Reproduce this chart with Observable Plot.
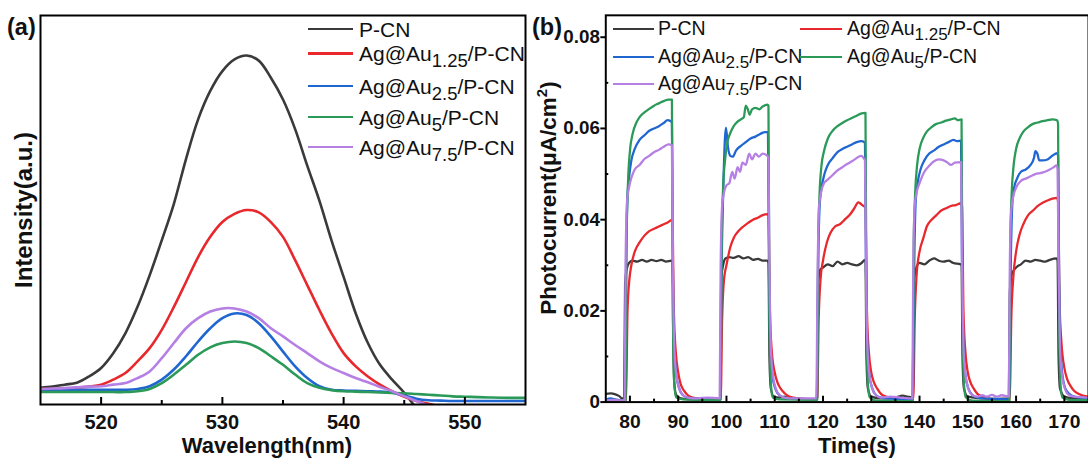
<!DOCTYPE html>
<html>
<head>
<meta charset="utf-8">
<script src="https://cdn.jsdelivr.net/npm/d3@7"></script>
<script src="https://cdn.jsdelivr.net/npm/@observablehq/plot@0.6"></script>
<style>
html,body{margin:0;padding:0;background:#fff;overflow:hidden;}
#root{position:relative;width:1088px;height:461px;overflow:hidden;font-family:"Liberation Sans",Arial,Helvetica,sans-serif;color:#111;}
.panel{position:absolute;top:0;}
.t{position:absolute;white-space:nowrap;line-height:1;}
.b{font-weight:bold;}
.rot{transform:translate(-50%,-50%) rotate(-90deg);}
.ctr{transform:translate(-50%,-50%);}
.ln{position:absolute;}
.sa{font-size:18.5px;position:relative;top:6px;}
.sb{font-size:17px;position:relative;top:5px;}
.sup{font-size:15px;position:relative;top:-9px;}
</style>
</head>
<body>
<div id="root"></div>
<script>
// ---------- shared series info ----------
const seriesNames = ["P-CN", "Ag@Au1.25/P-CN", "Ag@Au2.5/P-CN", "Ag@Au5/P-CN", "Ag@Au7.5/P-CN"];
const seriesSubs = ["", "1.25", "2.5", "5", "7.5"];
const seriesColors = ["#3a3a3a", "#e8282c", "#1f66d1", "#2b9a58", "#b57fe3"];

// ---------- panel (a): PL spectra ----------
const wavelengths = [515,516,517,518,519,520,521,522,523,524,525,526,527,528,529,530,531,532,533,534,535,536,537,538,539,540,541,542,543,544,545,546,547,548,549,550,551,552,553,554,555];
const aPCN  = [4.3,4.6,5.1,5.6,7.2,9.4,13.2,18.3,25.1,33.2,42.2,51.6,63.1,73.3,80.6,85.7,88.7,89.7,88.4,84.0,78.4,70.8,61.4,52.4,42.2,32.8,23.4,15.8,10.2,6.4,3.0,-0.9,-4,-7,-8,-8,-8,-8,-8,-8,-8];
const aAu125 = [4.0,4.0,4.1,4.3,4.6,5.1,6.4,8.1,11.1,14.5,19.2,25.1,31.5,37.9,43.1,46.9,49.0,50.0,49.4,46.9,43.1,37.1,30.7,24.3,18.3,13.2,9.8,7.2,5.1,3.4,2.0,0.9,0.2,-0.6,-1.5,-3,-3,-3,-3,-3,-3];
const aAu25 = [3.8,3.8,3.8,3.8,3.8,3.8,3.8,3.8,4.0,4.7,6.4,9.0,12.4,16.2,19.6,22.2,23.4,23.0,20.9,17.5,13.6,9.8,6.8,4.7,3.8,3.6,3.5,3.4,3.3,3.0,2.3,1.5,1.1,1.0,0.9,0.9,0.9,0.9,0.9,0.9,0.9];
const aAu5 = [3.2,3.2,3.2,3.2,3.2,3.2,3.2,3.2,3.4,4.0,5.5,7.7,10.2,12.8,14.7,15.8,16.2,15.8,14.5,12.4,10.2,7.7,5.5,4.3,3.7,3.4,3.3,3.2,3.1,3.0,2.9,2.7,2.5,2.3,2.1,2.0,1.9,1.8,1.75,1.7,1.7];
const aAu75 = [4.0,4.1,4.2,4.4,4.6,4.7,5.1,5.5,6.8,8.5,11.9,15.8,19.6,22.2,23.9,24.7,24.7,23.9,22.2,19.6,17.5,15.3,13.2,11.1,9.4,8.1,6.8,5.7,4.5,3.4,2.1,0.9,-0.3,-1.5,-3,-3,-3,-3,-3,-3,-3];
const aSeries = [aPCN, aAu125, aAu25, aAu5, aAu75];
const wlMajor = [520, 530, 540, 550];
const wlMinor = [525, 535, 545];

// ---------- panel (b): transient photocurrent ----------
const bPCN = [[75,0.0018],[76,0.0019],[77,0.0017],[77.8,0.0013],[78.4,0.0008],[78.8,0.001],[79.0,0.026],[79.3,0.029],[79.8,0.0305],[80.5,0.031],[81.5,0.0308],[82.5,0.0312],[83.5,0.0308],[84.5,0.0312],[85.5,0.0309],[86.5,0.0312],[87.5,0.0308],[88.6,0.031],[88.8,0.031],[89.0,0.012],[89.2,0.004],[89.6,0.0015],[90.5,0.0008],[92,0.0006],[95,0.0005],[98.5,0.0006],[98.7,0.001],[98.9,0.027],[99.3,0.030],[99.8,0.0315],[100.5,0.0318],[101.5,0.0316],[102.5,0.032],[103.5,0.0315],[104.5,0.0318],[105.5,0.0312],[106.5,0.0314],[107.5,0.031],[108.5,0.031],[108.7,0.0305],[108.9,0.01],[109.2,0.003],[109.8,0.0012],[111,0.001],[112,0.0012],[113,0.0008],[116,0.0006],[118.6,0.0007],[118.8,0.001],[119,0.026],[119.4,0.029],[120,0.0295],[121,0.0302],[122,0.0298],[123,0.0308],[124,0.0302],[125,0.0305],[126,0.0302],[127,0.03],[128,0.0305],[128.7,0.0312],[128.8,0.031],[129,0.01],[129.3,0.003],[130,0.0012],[132,0.0008],[135,0.001],[136.5,0.0014],[137.5,0.0012],[138.6,0.001],[138.8,0.026],[139.2,0.029],[140,0.0305],[141,0.0302],[142,0.031],[143,0.0315],[144,0.031],[145,0.0308],[146,0.031],[147,0.0305],[148.5,0.0302],[148.7,0.03],[148.9,0.01],[149.2,0.003],[150,0.0012],[153,0.0008],[156,0.0007],[158.5,0.0008],[158.7,0.024],[159.1,0.028],[160,0.0295],[161,0.0302],[162,0.031],[163,0.0308],[164,0.0312],[165,0.031],[166,0.0308],[167,0.0312],[168.4,0.0315],[168.6,0.031],[168.8,0.01],[169.1,0.003],[170,0.0012],[172,0.0008],[175,0.0007]];
const bAu125 = [[75,0.0003],[78,0.0003],[79.2,0.0005],[79.5,0.02],[79.9,0.027],[80.3,0.030],[81,0.033],[82,0.035],[83,0.0365],[84,0.0375],[85,0.038],[86,0.0385],[87,0.039],[88,0.0395],[88.8,0.040],[89.1,0.02],[89.5,0.011],[90,0.0065],[90.5,0.004],[91.2,0.0025],[92,0.0015],[93,0.001],[95,0.0007],[98.8,0.0006],[99.1,0.018],[99.5,0.027],[100,0.030],[100.8,0.034],[101.5,0.036],[102.5,0.0375],[103.5,0.0385],[104.5,0.0393],[105.5,0.040],[106.5,0.0404],[107.5,0.041],[108.5,0.0412],[108.7,0.041],[109,0.02],[109.4,0.011],[110,0.0065],[110.5,0.0045],[111.2,0.003],[112,0.002],[113,0.0012],[115,0.0008],[118.8,0.0006],[119.1,0.018],[119.5,0.027],[120,0.031],[120.8,0.035],[121.5,0.037],[122.5,0.0385],[123.5,0.039],[124.5,0.040],[125.5,0.041],[126.5,0.0425],[127.3,0.0438],[127.8,0.0435],[128.4,0.043],[128.8,0.0428],[129.1,0.02],[129.5,0.011],[130,0.0065],[130.5,0.0045],[131.2,0.003],[132,0.0018],[133,0.0012],[135,0.0008],[138.7,0.0006],[139,0.018],[139.4,0.028],[140,0.033],[140.8,0.036],[141.5,0.0385],[142.5,0.040],[143.5,0.041],[144.5,0.042],[145.5,0.0425],[146.5,0.043],[147.5,0.0432],[148.6,0.0436],[148.8,0.043],[149.1,0.02],[149.5,0.011],[150,0.0065],[150.5,0.0045],[151.2,0.003],[152,0.0018],[153,0.0012],[155,0.0005],[157,0.0002],[158.7,0.0003],[159,0.018],[159.4,0.027],[160,0.033],[160.8,0.037],[161.5,0.039],[162.5,0.041],[163.5,0.042],[164.5,0.043],[165.5,0.0437],[166.5,0.0442],[167.5,0.0446],[168.5,0.0448],[168.7,0.044],[169,0.022],[169.4,0.013],[170,0.0075],[170.6,0.005],[171.3,0.0035],[172,0.0025],[173,0.0018],[175,0.0012]];
const bAu25 = [[75,0.0005],[76,0.0008],[77,0.0006],[78,0.0004],[79,0.0005],[79.2,0.03],[79.5,0.045],[79.8,0.049],[80.3,0.053],[81,0.0555],[82,0.0575],[83,0.0585],[84,0.0595],[85,0.060],[86,0.0605],[87,0.0612],[87.8,0.0618],[88.7,0.0614],[88.9,0.03],[89.2,0.012],[89.6,0.006],[90.2,0.003],[91,0.0015],[92,0.001],[95,0.0007],[98.7,0.0006],[99,0.03],[99.3,0.045],[99.7,0.058],[99.9,0.0602],[100.3,0.056],[100.8,0.054],[101.3,0.0538],[102,0.0552],[103,0.0562],[104,0.057],[105,0.0578],[106,0.0582],[107,0.0588],[108,0.0592],[108.6,0.0592],[108.8,0.03],[109.1,0.012],[109.5,0.006],[110.1,0.003],[111,0.0015],[112,0.001],[115,0.0007],[118.7,0.0006],[119,0.03],[119.3,0.043],[119.7,0.047],[120.3,0.050],[121,0.052],[122,0.0535],[123,0.0548],[124,0.0555],[125,0.056],[126,0.0565],[127,0.057],[128,0.0572],[128.7,0.0568],[128.9,0.03],[129.2,0.012],[129.6,0.006],[130.2,0.003],[131,0.0015],[132,0.001],[135,0.0007],[138.6,0.0006],[138.9,0.03],[139.2,0.044],[139.6,0.048],[140.2,0.051],[141,0.053],[142,0.0545],[143,0.0552],[144,0.056],[145,0.0565],[146,0.057],[147,0.0575],[147.8,0.0572],[148.6,0.0573],[148.8,0.03],[149.1,0.012],[149.5,0.006],[150.1,0.003],[151,0.0015],[152,0.001],[155,0.0007],[158.6,0.0006],[158.9,0.03],[159.2,0.043],[159.6,0.047],[160.2,0.049],[161,0.0505],[162,0.051],[163,0.052],[163.7,0.0535],[164,0.055],[164.4,0.0545],[164.8,0.053],[165.5,0.053],[166.5,0.0532],[167.5,0.054],[168.5,0.0546],[168.7,0.054],[168.9,0.03],[169.2,0.012],[169.6,0.006],[170.2,0.003],[171,0.0018],[172,0.0012],[175,0.0008]];
const bAu5 = [[75,0.0002],[78,0.0003],[79.1,0.0004],[79.3,0.035],[79.6,0.048],[80,0.055],[80.6,0.059],[81.3,0.0612],[82,0.0625],[83,0.0635],[84,0.0643],[85,0.065],[86,0.0655],[87,0.066],[88,0.0663],[88.7,0.0663],[88.9,0.02],[89.2,0.004],[89.6,0.001],[91,0.0006],[95,0.0005],[98.8,0.0005],[99,0.035],[99.3,0.047],[99.7,0.053],[100.2,0.057],[100.8,0.059],[101.5,0.0605],[102.3,0.0615],[103,0.062],[103.6,0.0625],[104,0.065],[104.4,0.0643],[104.8,0.063],[105.3,0.0642],[106,0.0645],[106.8,0.0642],[107.5,0.0648],[108.5,0.0652],[108.7,0.065],[108.9,0.02],[109.2,0.004],[109.6,0.001],[111,0.0006],[118.8,0.0005],[119,0.035],[119.3,0.046],[119.7,0.052],[120.2,0.055],[121,0.0578],[122,0.0595],[123,0.0605],[124,0.0612],[125,0.0618],[126,0.0623],[127,0.0628],[128,0.0633],[128.8,0.0634],[129,0.02],[129.3,0.004],[129.7,0.001],[131,0.0003],[135,0.0002],[138.6,0.0002],[138.8,0.035],[139.1,0.046],[139.5,0.052],[140,0.0555],[140.8,0.058],[141.5,0.0593],[142.5,0.0603],[143.5,0.061],[144.5,0.0613],[145.5,0.0617],[146.5,0.062],[147.3,0.0622],[148,0.0618],[148.7,0.062],[148.9,0.02],[149.2,0.004],[149.6,0.001],[151,0.0003],[155,0.0002],[158.6,0.0002],[158.8,0.035],[159.1,0.046],[159.5,0.052],[160,0.0555],[160.8,0.058],[161.5,0.0593],[162.5,0.0603],[163.5,0.061],[164.5,0.0613],[165.5,0.0616],[166.5,0.0618],[167.5,0.062],[168.5,0.0618],[168.7,0.061],[168.9,0.02],[169.2,0.004],[169.6,0.001],[171,0.0005],[175,0.0004]];
const bAu75 = [[75,0.0003],[76.5,0.0005],[78,0.0004],[78.9,0.0004],[79.1,0.03],[79.4,0.044],[79.8,0.047],[80.4,0.0495],[81,0.051],[82,0.052],[83,0.0533],[84,0.054],[85,0.0548],[86,0.0553],[87,0.056],[88,0.0565],[88.7,0.0563],[88.9,0.03],[89.2,0.012],[89.6,0.006],[90.2,0.003],[91,0.0015],[92,0.001],[94,0.0008],[96,0.001],[98.6,0.0008],[98.8,0.03],[99.1,0.043],[99.5,0.046],[100,0.0475],[100.6,0.048],[101.2,0.0505],[101.7,0.049],[102.3,0.0515],[102.8,0.0505],[103.3,0.0525],[104,0.052],[104.7,0.0545],[105.3,0.0532],[106,0.0545],[106.7,0.0538],[107.5,0.0545],[108.5,0.054],[108.7,0.053],[108.9,0.03],[109.2,0.012],[109.6,0.006],[110.2,0.003],[111,0.0015],[112,0.001],[114,0.0008],[118.6,0.0008],[118.9,0.03],[119.2,0.043],[119.6,0.046],[120.2,0.048],[121,0.0488],[122,0.0498],[123,0.0508],[124,0.0515],[125,0.0522],[126,0.0528],[127,0.0535],[127.8,0.054],[128.7,0.053],[128.9,0.03],[129.2,0.012],[129.6,0.006],[130.2,0.003],[131,0.0015],[132,0.001],[134,0.0012],[136,0.001],[138.5,0.0008],[138.7,0.03],[139,0.043],[139.4,0.046],[140,0.048],[141,0.0505],[142,0.0518],[143,0.0528],[144,0.0532],[145,0.053],[145.8,0.0525],[146.5,0.052],[147.3,0.0525],[148.6,0.0526],[148.8,0.03],[149.1,0.012],[149.5,0.006],[150.1,0.003],[151,0.0015],[152,0.0012],[153,0.0015],[154,0.0012],[155,0.0016],[156,0.0012],[157,0.0015],[158.5,0.0012],[158.7,0.03],[159,0.042],[159.4,0.045],[160,0.047],[161,0.0485],[162,0.049],[163,0.0495],[164,0.050],[165,0.0502],[166,0.0505],[167,0.051],[167.8,0.0515],[168.4,0.0519],[168.6,0.051],[168.8,0.03],[169.1,0.012],[169.5,0.006],[170.1,0.003],[171,0.0015],[172,0.0012],[175,0.001]];
const bSeries = [bPCN, bAu125, bAu25, bAu5, bAu75];
const timeMajor = [80, 90, 100, 110, 120, 130, 140, 150, 160, 170];
const timeMinor = [85, 95, 105, 115, 125, 135, 145, 155, 165];
const pcMajor = [0, 0.02, 0.04, 0.06, 0.08];
const pcMinor = [0.01, 0.03, 0.05, 0.07];

const FONT = '"Liberation Sans", Arial, Helvetica, sans-serif';
const root = document.getElementById("root");

// ---------- build panel (a) ----------
const plotA = Plot.plot({
  width: 540, height: 461,
  marginLeft: 40, marginRight: 15, marginTop: 15, marginBottom: 57,
  x: {domain: [515, 555]},
  y: {domain: [0, 100], axis: null},
  style: {fontFamily: FONT, color: "#111", background: "transparent", overflow: "visible"},
  marks: [
    ...aSeries.map((vals, k) => Plot.line(wavelengths, {
      x: d => d, y: (d, i) => vals[i],
      stroke: seriesColors[k], strokeWidth: 2.6, curve: "catmull-rom", clip: true
    })),
    Plot.axisX({ticks: wlMajor, tickSize: 7, dy: -7, fill: "none", stroke: "#000", strokeWidth: 2, label: null}),
    Plot.axisX({ticks: wlMinor, tickSize: 4, dy: -4, fill: "none", stroke: "#000", strokeWidth: 2, label: null}),
    Plot.axisX({ticks: wlMajor, tickSize: 0, tickPadding: 10, fill: "#111", fontSize: 20, fontWeight: "bold", label: null}),
    Plot.frame({stroke: "#000", strokeWidth: 2})
  ]
});
const pa = document.createElement("div");
pa.className = "panel"; pa.style.left = "0px";
pa.appendChild(plotA);
root.appendChild(pa);

// ---------- build panel (b) ----------
const plotB = Plot.plot({
  width: 554, height: 461,
  marginLeft: 66, marginRight: 0, marginTop: 15, marginBottom: 55,
  x: {domain: [75, 175]},
  y: {domain: [0, 0.0848]},
  style: {fontFamily: FONT, color: "#111", background: "transparent", overflow: "visible"},
  marks: [
    ...bSeries.map((pts, k) => Plot.line(pts, {
      x: d => d[0], y: d => d[1],
      stroke: seriesColors[k], strokeWidth: 2.3, curve: "monotone-x", clip: true
    })),
    Plot.axisX({ticks: timeMajor, tickSize: 6, dy: -6, fill: "none", stroke: "#000", strokeWidth: 2, label: null}),
    Plot.axisX({ticks: timeMinor, tickSize: 3, dy: -3, fill: "none", stroke: "#000", strokeWidth: 2, label: null}),
    Plot.axisX({ticks: timeMajor, tickSize: 0, tickPadding: 12, fill: "#111", fontSize: 19.5, fontWeight: "bold", label: null}),
    Plot.axisY({ticks: pcMajor, tickSize: 5, tickPadding: 1, stroke: "#000", strokeWidth: 2, fill: "#111", fontSize: 19, fontWeight: "bold", label: null,
      tickFormat: d => d === 0 ? "0" : d.toFixed(2)}),
    Plot.axisY({ticks: pcMinor, tickSize: 3, dx: 3, fill: "none", stroke: "#000", strokeWidth: 2, label: null}),
    Plot.frame({stroke: "#000", strokeWidth: 2})
  ]
});
const pb = document.createElement("div");
pb.className = "panel"; pb.style.left = "540px";
pb.appendChild(plotB);
root.appendChild(pb);

// ---------- texts ----------
function addText(html, x, y, size, cls, extraStyle) {
  const d = document.createElement("div");
  d.className = "t " + (cls || "");
  d.style.left = x + "px"; d.style.top = y + "px"; d.style.fontSize = size + "px";
  if (extraStyle) Object.assign(d.style, extraStyle);
  d.innerHTML = html;
  root.appendChild(d);
  return d;
}
addText("(a)", 7, 16, 23.5, "b");
addText("(b)", 532, 16, 23.5, "b");
addText("Wavelength(nm)", 267, 446, 22, "b ctr");
addText("Time(s)", 857, 446, 22, "b ctr");
addText("Intensity(a.u.)", 24, 210, 24, "b rot");
addText('Photocurrent(μA/cm<span class="sup">2</span>)', 549, 198, 22.5, "b rot");

function legendLabel(k, subCls) {
  return seriesSubs[k] ? `Ag@Au<span class="${subCls}">${seriesSubs[k]}</span>/P-CN` : seriesNames[k];
}
function addLegendEntry(k, x1, x2, tx, y, size, subCls, lw) {
  const l = document.createElement("div");
  l.className = "ln";
  l.style.left = x1 + "px"; l.style.width = (x2 - x1) + "px";
  l.style.top = (y - lw / 2) + "px"; l.style.height = lw + "px";
  l.style.background = seriesColors[k];
  root.appendChild(l);
  addText(legendLabel(k, subCls), tx, y - size * 0.49, size, "");
}
// legend (a)
const legARows = [29, 53.5, 86, 117, 147];
seriesNames.forEach((n, k) => addLegendEntry(k, 308, 353, 359, legARows[k], 21, "sa", 2.6));
// legend (b): two columns
const legBPos = [[613, 654, 658, 29], [800, 842, 847, 29], [613, 654, 658, 57], [800, 842, 847, 57], [613, 654, 658, 84]];
seriesNames.forEach((n, k) => addLegendEntry(k, legBPos[k][0], legBPos[k][1], legBPos[k][2], legBPos[k][3], 19.5, "sb", 2.2));
</script>
</body>
</html>
